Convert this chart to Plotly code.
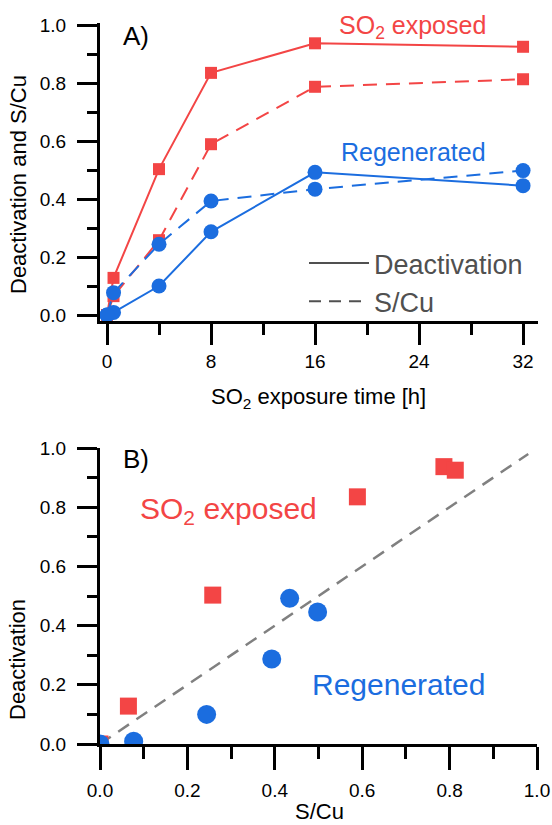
import plotly.graph_objects as go

# exposure time [h]
time_h = [0, 0.5, 4, 8, 16, 32]

# SO2 exposed samples
so2_deact = [0.0, 0.128, 0.503, 0.835, 0.937, 0.925]
so2_scu = [0.0, 0.065, 0.258, 0.589, 0.787, 0.813]

# regenerated samples
regen_deact = [0.0, 0.009, 0.100, 0.287, 0.492, 0.446]
regen_scu = [0.0, 0.077, 0.244, 0.393, 0.434, 0.498]

# 1:1 guide line for panel B
guide_x = [0.0, 0.98]
guide_y = [0.0, 0.98]

RED = '#F34545'
BLUE = '#1B6DDF'
GREY = '#505050'
FONT = 'Liberation Sans, Arial, sans-serif'
W, H = 552, 825


def px(x):
    return x / W


def py(y):
    return 1 - y / H


fig = go.Figure()

# ---- panel A ----
fig.add_trace(go.Scatter(x=time_h, y=so2_deact, mode='lines+markers', xaxis='x', yaxis='y', showlegend=False,
                         line=dict(color=RED, width=2), marker=dict(symbol='square', size=12, color=RED), cliponaxis=False))
fig.add_trace(go.Scatter(x=time_h, y=so2_scu, mode='lines+markers', xaxis='x', yaxis='y', showlegend=False,
                         line=dict(color=RED, width=2, dash='14px,9px'), marker=dict(symbol='square', size=12, color=RED), cliponaxis=False))
fig.add_trace(go.Scatter(x=time_h, y=regen_deact, mode='lines+markers', xaxis='x', yaxis='y', showlegend=False,
                         line=dict(color=BLUE, width=2), marker=dict(symbol='circle', size=15, color=BLUE), cliponaxis=False))
fig.add_trace(go.Scatter(x=time_h, y=regen_scu, mode='lines+markers', xaxis='x', yaxis='y', showlegend=False,
                         line=dict(color=BLUE, width=2, dash='14px,9px'), marker=dict(symbol='circle', size=15, color=BLUE), cliponaxis=False))

# legend entries (line style only)
fig.add_trace(go.Scatter(x=[None], y=[None], mode='lines', name='Deactivation', xaxis='x', yaxis='y',
                         line=dict(color=GREY, width=2)))
fig.add_trace(go.Scatter(x=[None], y=[None], mode='lines', name='S/Cu', xaxis='x', yaxis='y',
                         line=dict(color=GREY, width=2, dash='12px,8px')))

# ---- panel B ----
fig.add_trace(go.Scatter(x=guide_x, y=guide_y, mode='lines', xaxis='x2', yaxis='y2', showlegend=False,
                         line=dict(color='#808080', width=2.5, dash='13px,9px')))
fig.add_trace(go.Scatter(x=so2_scu, y=so2_deact, mode='markers', xaxis='x2', yaxis='y2', showlegend=False,
                         marker=dict(symbol='square', size=17, color=RED)))
fig.add_trace(go.Scatter(x=regen_scu, y=regen_deact, mode='markers', xaxis='x2', yaxis='y2', showlegend=False,
                         marker=dict(symbol='circle', size=19, color=BLUE)))

ax = dict(showline=True, linecolor='black', linewidth=3, ticks='outside', tickwidth=3, tickcolor='black',
          showgrid=False, zeroline=False, automargin=False, tickfont=dict(size=19, color='black', family=FONT))

fig.update_layout(
    xaxis=dict(ax, domain=[px(100), px(538)], range=[-0.54, 33.15], anchor='y', tickmode='linear', tick0=0, dtick=8,
               ticklen=21, ticklabelstandoff=0,
               minor=dict(ticks='outside', dtick=4, ticklen=11, tickwidth=3, tickcolor='black')),
    yaxis=dict(ax, domain=[py(321), py(23)], range=[-0.0207, 1.007], anchor='x', tickmode='linear', tick0=0, dtick=0.2,
               tickformat='.1f', ticklen=20, ticklabelstandoff=7,
               minor=dict(ticks='outside', dtick=0.1, ticklen=10, tickwidth=3, tickcolor='black')),
    xaxis2=dict(ax, domain=[px(100), px(537)], range=[0, 1.0], anchor='y2', tickmode='linear', tick0=0, dtick=0.2,
                tickformat='.1f', ticklen=23, ticklabelstandoff=4,
                minor=dict(ticks='outside', dtick=0.1, ticklen=12, tickwidth=3, tickcolor='black')),
    yaxis2=dict(ax, domain=[py(744), py(448)], range=[0, 1.0], anchor='x2', tickmode='linear', tick0=0, dtick=0.2,
                tickformat='.1f', ticklen=20, ticklabelstandoff=7,
                minor=dict(ticks='outside', dtick=0.1, ticklen=10, tickwidth=3, tickcolor='black')),
    width=W, height=H, margin=dict(l=0, r=0, t=0, b=0, autoexpand=False),
    paper_bgcolor='white', plot_bgcolor='white',
    font=dict(family=FONT, color='black'),
    legend=dict(x=px(304), y=py(239), xanchor='left', yanchor='top', bgcolor='rgba(0,0,0,0)',
                font=dict(size=27, color=GREY), itemwidth=60, tracegroupgap=0),
)

ann = [
    # panel labels
    dict(text='A)', x=px(121), y=py(36), size=26, color='black', xanchor='left'),
    dict(text='B)', x=px(121), y=py(459), size=26, color='black', xanchor='left'),
    # in-plot labels
    dict(text='SO<sub>2</sub> exposed', x=px(412), y=py(27), size=25, color=RED),
    dict(text='Regenerated', x=px(413), y=py(152), size=25, color=BLUE),
    dict(text='SO<sub>2</sub> exposed', x=px(228), y=py(510), size=30, color=RED),
    dict(text='Regenerated', x=px(398), y=py(684), size=30, color=BLUE),
    # axis titles
    dict(text='SO<sub>2</sub> exposure time [h]', x=px(318), y=py(398), size=22, color='black'),
    dict(text='S/Cu', x=px(319), y=py(811), size=22, color='black'),
    dict(text='Deactivation and S/Cu', x=px(18), y=py(185), size=22, color='black', angle=-90),
    dict(text='Deactivation', x=px(17), y=py(660), size=22, color='black', angle=-90),
]
for a in ann:
    fig.add_annotation(text=a['text'], x=a['x'], y=a['y'], xref='paper', yref='paper', showarrow=False,
                       xanchor=a.get('xanchor', 'center'), yanchor='middle', textangle=a.get('angle', 0),
                       font=dict(size=a['size'], color=a['color'], family=FONT))

# drop the browser's default page margin so the figure sits at the top-left corner
fig.write_html("out.html", config={'displayModeBar': False},
               post_script="document.body.style.margin='0px';")
